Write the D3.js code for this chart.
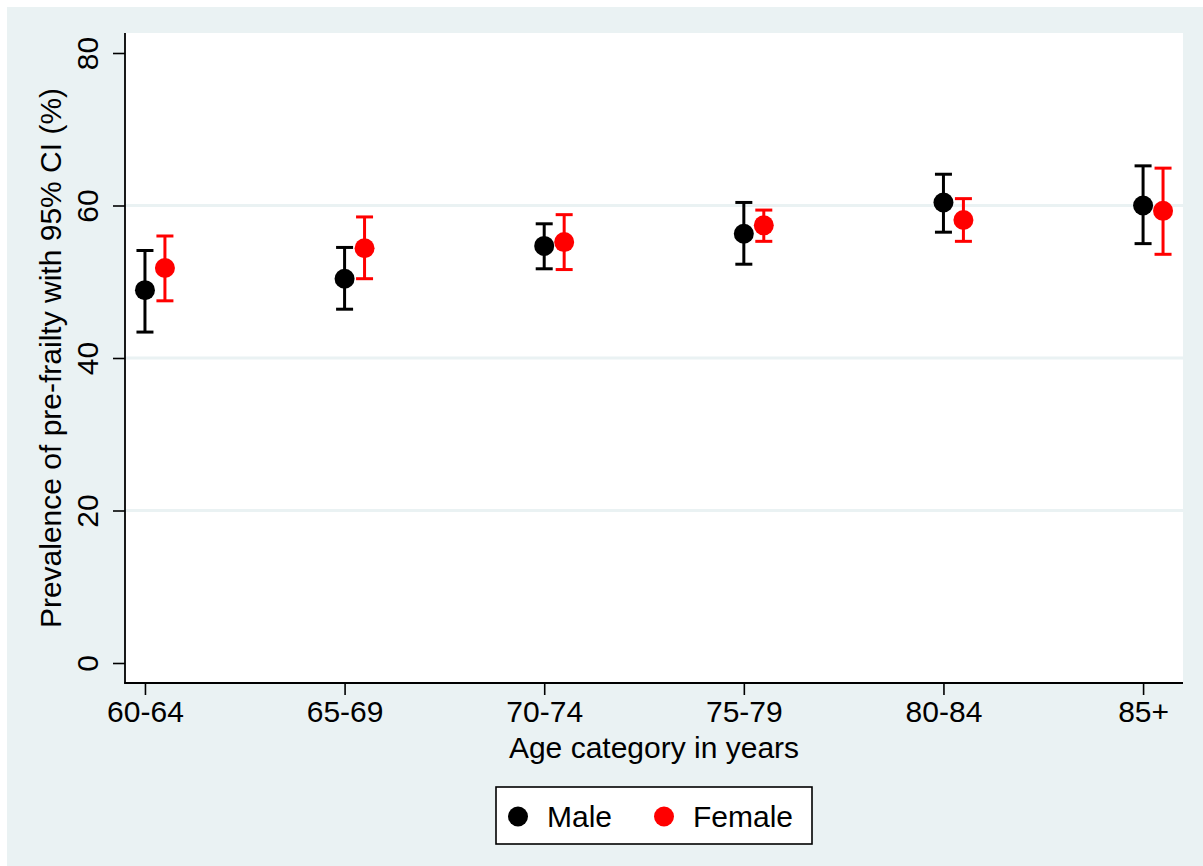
<!DOCTYPE html>
<html>
<head>
<meta charset="utf-8">
<script src="https://cdn.jsdelivr.net/npm/d3@7"></script>
<style>
  html, body { margin: 0; padding: 0; background: #ffffff; }
  svg { display: block; }
  text { font-family: "Liberation Sans", Arial, sans-serif; fill: #000; }
</style>
</head>
<body>
<svg id="chart" width="1203" height="866"></svg>
<script>
// Age groups on the x axis
const categories = ["60-64", "65-69", "70-74", "75-79", "80-84", "85+"];

// Pre-frailty prevalence (%) with 95% confidence limits
const maleEst   = [48.9, 50.4, 54.7, 56.3, 60.4, 60.0];
const maleLow   = [43.4, 46.4, 51.7, 52.3, 56.5, 55.0];
const maleHigh  = [54.1, 54.5, 57.6, 60.4, 64.1, 65.2];

const femaleEst  = [51.8, 54.4, 55.2, 57.4, 58.1, 59.3];
const femaleLow  = [47.5, 50.4, 51.6, 55.3, 55.3, 53.6];
const femaleHigh = [56.0, 58.5, 58.8, 59.4, 60.9, 64.9];

const yTicks = [0, 20, 40, 60, 80];
const seriesNames = ["Male", "Female"];
const seriesColors = ["#000000", "#ff0000"];
const seriesOffset = [0, 0.1];

const svg = d3.select("#chart");
const W = 1203, H = 866;

// Outer graph region
svg.append("rect").attr("x", 7).attr("y", 7).attr("width", W - 7).attr("height", H - 7)
  .attr("fill", "#eaf2f3");

// Plot region
const plot = { left: 125, right: 1183, top: 33, bottom: 683 };
svg.append("rect").attr("x", plot.left).attr("y", plot.top)
  .attr("width", plot.right - plot.left).attr("height", plot.bottom - plot.top)
  .attr("fill", "#ffffff");

const x = d3.scaleLinear().domain([-0.1, 5.2]).range([plot.left, plot.right]);
const y = d3.scaleLinear().domain([0, 80]).range([663, 53]);

// Horizontal grid lines
svg.append("g").selectAll("line")
  .data([20, 40, 60])
  .join("line")
  .attr("x1", plot.left).attr("x2", plot.right)
  .attr("y1", d => y(d)).attr("y2", d => y(d))
  .attr("stroke", "#eaf2f3").attr("stroke-width", 3);

// Y axis
const yAxis = d3.axisLeft(y).tickValues(yTicks).tickSize(12).tickSizeOuter(0);
const gy = svg.append("g").attr("transform", `translate(${plot.left},0)`).call(yAxis);
gy.select(".domain").remove();
gy.selectAll(".tick line").attr("stroke", "#000").attr("stroke-width", 1.6);
gy.selectAll(".tick text")
  .attr("transform", "rotate(-90)")
  .attr("x", 0).attr("y", -27).attr("dy", 0)
  .attr("text-anchor", "middle")
  .attr("font-size", 30)
  .style("font-family", "'Liberation Sans', Arial, sans-serif")
  .attr("fill", "#000");

// X axis
const xAxis = d3.axisBottom(x).tickValues(d3.range(categories.length))
  .tickFormat(i => categories[i]).tickSize(12).tickSizeOuter(0);
const gx = svg.append("g").attr("transform", `translate(0,${plot.bottom})`).call(xAxis);
gx.select(".domain").remove();
gx.selectAll(".tick line").attr("stroke", "#000").attr("stroke-width", 1.6);
gx.selectAll(".tick text")
  .attr("y", 39).attr("dy", 0)
  .attr("font-size", 30)
  .style("font-family", "'Liberation Sans', Arial, sans-serif")
  .attr("fill", "#000");

// Axis lines
svg.append("line").attr("x1", plot.left).attr("x2", plot.left)
  .attr("y1", plot.top).attr("y2", plot.bottom + 0.8)
  .attr("stroke", "#000").attr("stroke-width", 1.8);
svg.append("line").attr("x1", plot.left - 0.8).attr("x2", plot.right)
  .attr("y1", plot.bottom).attr("y2", plot.bottom)
  .attr("stroke", "#000").attr("stroke-width", 1.8);

// Axis titles
svg.append("text")
  .attr("transform", `translate(61,358) rotate(-90)`)
  .attr("text-anchor", "middle")
  .attr("font-size", 30)
  .text("Prevalence of pre-frailty with 95% CI (%)");

svg.append("text")
  .attr("x", (plot.left + plot.right) / 2).attr("y", 758)
  .attr("text-anchor", "middle")
  .attr("font-size", 30)
  .text("Age category in years");

// Series: caps, whiskers and markers
const series = [
  { est: maleEst, low: maleLow, high: maleHigh },
  { est: femaleEst, low: femaleLow, high: femaleHigh }
];
const capHalf = 8.5;

series.forEach((s, k) => {
  const rows = categories.map((c, i) => ({ xi: i + seriesOffset[k], est: s.est[i], low: s.low[i], high: s.high[i] }));
  const g = svg.append("g");
  const col = seriesColors[k];
  g.selectAll("line.whisker").data(rows).join("line").attr("class", "whisker")
    .attr("x1", d => x(d.xi)).attr("x2", d => x(d.xi))
    .attr("y1", d => y(d.low)).attr("y2", d => y(d.high))
    .attr("stroke", col).attr("stroke-width", 3);
  g.selectAll("line.capHi").data(rows).join("line").attr("class", "capHi")
    .attr("x1", d => x(d.xi) - capHalf).attr("x2", d => x(d.xi) + capHalf)
    .attr("y1", d => y(d.high)).attr("y2", d => y(d.high))
    .attr("stroke", col).attr("stroke-width", 3);
  g.selectAll("line.capLo").data(rows).join("line").attr("class", "capLo")
    .attr("x1", d => x(d.xi) - capHalf).attr("x2", d => x(d.xi) + capHalf)
    .attr("y1", d => y(d.low)).attr("y2", d => y(d.low))
    .attr("stroke", col).attr("stroke-width", 3);
  g.selectAll("circle").data(rows).join("circle")
    .attr("cx", d => x(d.xi)).attr("cy", d => y(d.est)).attr("r", 10)
    .attr("fill", col);
});

// Legend
const lg = svg.append("g");
lg.append("rect").attr("x", 496).attr("y", 787).attr("width", 316).attr("height", 57)
  .attr("fill", "#ffffff").attr("stroke", "#000").attr("stroke-width", 1.6);
const legendX = [518, 664];
seriesNames.forEach((name, k) => {
  lg.append("circle").attr("cx", legendX[k]).attr("cy", 816.5).attr("r", 10)
    .attr("fill", seriesColors[k]);
  lg.append("text").attr("x", legendX[k] + 29).attr("y", 827)
    .attr("font-size", 30).text(name);
});
</script>
</body>
</html>
